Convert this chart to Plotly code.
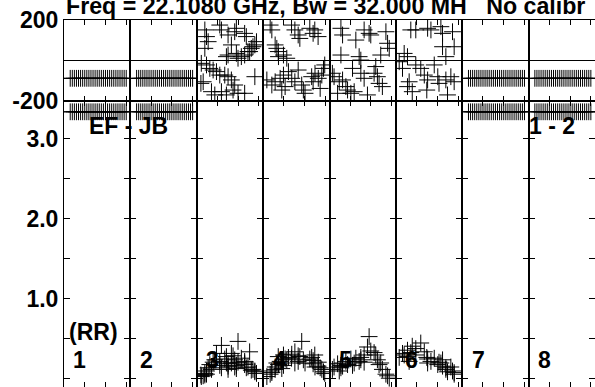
import plotly.graph_objects as go
from plotly.subplots import make_subplots

# --- text -------------------------------------------------------------
title_text = "Freq = 22.1080 GHz, Bw = 32.000 MH   No calibr"
baseline_label = "EF - JB"
source_label = "1 - 2"
stokes_label = "(RR)"
if_labels = ["1", "2", "3", "4", "5", "6", "7", "8"]

# --- flagged IFs (1, 2, 7, 8): every channel sits at the same spot ------
flag_channels = [3, 4, 5, 6, 7, 8, 9, 10, 11, 12, 13, 14, 15, 16, 17, 18,
                 19, 20, 21, 22, 23, 24, 25, 26, 27, 28, 29, 30]
flag_phase = -88.0
flag_amp = 3.34

# --- IF 3 ---------------------------------------------------------------
p3_chan = [3.9, 4.7, 5.5, 3.9, 11.1, 11.9, 15.1, 16.7, 18.3, 19.1, 23.1, 23.9,
           25.5, 27.1, 28.0, 28.8, 26.3, 24.7, 23.1, 21.5, 19.9, 19.1, 14.3, 15.1,
           2.2, 4.7, 6.3, 7.9, 9.5, 11.1, 13.5, 15.1, 16.7, 18.3, 17.5, 11.9,
           8.7, 7.1, 3.1, 2.0, 28.0, 23.1, 14.3, 19.9]
p3_phase = [151, 118, 93, 60, 175, 151, 126, 77, 142, 159, 134, 118,
            44, 68, 77, 93, 60, 44, 27, 19, 11, 35, 19, 27,
            -14, -22, -39, -47, -55, -72, -72, -80, -96, -121, -146, -154,
            -170, -154, -105, -113, -80, -162, -170, -162]
p3_amp = [0.07, 0.1, 0.14, 0.05, 0.22, 0.42, 0.19, 0.32, 0.24, 0.17, 0.2, 0.14,
          0.34, 0.12, 0.09, 0.07, 0.11, 0.15, 0.22, 0.26, 0.47, 0.13, 0.28, 0.16,
          0.03, 0.06, 0.18, 0.21, 0.32, 0.17, 0.25, 0.12, 0.2, 0.15, 0.29, 0.14,
          0.24, 0.12, 0.04, 0.05, 0.1, 0.18, 0.2, 0.21]

# --- IF 4 ---------------------------------------------------------------
p4_chan = [3.4, 4.2, 5.8, 6.6, 7.3, 9.8, 11.4, 13.7, 15.3, 16.9, 17.7, 22.5,
           24.1, 24.9, 26.5, 29.7, 7.4, 1.8, 4.2, 5.8, 8.2, 9.8, 12.2, 13.8,
           15.3, 16.9, 18.6, 19.4, 20.2, 23.4, 25.0, 26.6, 28.3, 29.1, 27.5, 24.1,
           10.6, 9.0]
p4_phase = [175, 151, 77, 60, 44, 27, 11, 175, 151, 126, 109, 159,
            134, 151, 118, -22, 19, -96, -121, -105, -88, -72, -55, -88,
            -105, -47, -121, -146, -162, -80, -63, -88, -72, -39, -138, -105,
            -129, -146]
p4_amp = [0.06, 0.08, 0.15, 0.2, 0.28, 0.3, 0.24, 0.26, 0.34, 0.22, 0.28, 0.25,
          0.19, 0.3, 0.16, 0.07, 0.18, 0.03, 0.1, 0.12, 0.22, 0.17, 0.27, 0.31,
          0.2, 0.29, 0.47, 0.24, 0.2, 0.27, 0.15, 0.21, 0.12, 0.09, 0.14, 0.23,
          0.25, 0.13]

# --- IF 5 ---------------------------------------------------------------
p5_chan = [5.5, 6.3, 5.5, 12.7, 14.3, 15.1, 16.7, 19.1, 19.9, 27.2, 28.0, 28.8,
           24.7, 1.4, 2.2, 4.7, 7.9, 8.7, 10.3, 11.9, 18.3, 11.1, 15.1, 16.7,
           22.3, 23.1, 23.9, 25.5, 6.3, 3.9, 21.5]
p5_phase = [159, 126, 27, 101, 19, 2, 151, 134, 126, 142, 85, 60,
            27, -63, -80, -105, -129, -146, -162, -154, -170, -39, -63, -88,
            -30, -80, -113, -129, -96, -162, -63]
p5_amp = [0.17, 0.2, 0.14, 0.26, 0.22, 0.24, 0.3, 0.53, 0.35, 0.06, 0.04, 0.01,
          0.2, 0.12, 0.15, 0.1, 0.22, 0.18, 0.25, 0.2, 0.4, 0.17, 0.27, 0.21,
          0.3, 0.24, 0.18, 0.12, 0.16, 0.19, 0.33]

# --- IF 6 ---------------------------------------------------------------
p6_chan = [7.2, 9.6, 15.3, 16.9, 21.7, 22.5, 27.3, 28.1, 22.5, 24.1, 4.0, 5.6,
           1.6, 3.2, 6.4, 5.6, 9.6, 12.0, 13.7, 15.3, 18.5, 20.2, 24.1, 26.5,
           28.1, 24.9, 7.9, 14.9, 20.8]
p6_phase = [151, 151, 159, 151, 167, 134, 142, 68, 68, 19, 35, 19,
            -6, -39, -105, -129, -22, -39, -72, -96, -22, -80, -96, -80,
            -105, -170, -154, -146, -113]
p6_amp = [0.33, 0.38, 0.25, 0.22, 0.2, 0.16, 0.1, 0.08, 0.24, 0.14, 0.3, 0.36,
          0.27, 0.32, 0.22, 0.28, 0.3, 0.45, 0.34, 0.2, 0.26, 0.18, 0.12, 0.15,
          0.06, 0.09, 0.41, 0.27, 0.21]

if_data = {3: (p3_chan, p3_phase, p3_amp),
           4: (p4_chan, p4_phase, p4_amp),
           5: (p5_chan, p5_phase, p5_amp),
           6: (p6_chan, p6_phase, p6_amp)}

FONT = "Liberation Sans"
cross = dict(symbol="cross-thin", size=12, line=dict(color="black", width=1))

fig = make_subplots(rows=2, cols=8, row_heights=[0.2207, 0.7793],
                    horizontal_spacing=0, vertical_spacing=0)

for col in range(1, 9):
    if col in if_data:
        chan, phase, amp = if_data[col]
    else:
        chan = flag_channels
        phase = [flag_phase] * len(flag_channels)
        amp = [flag_amp] * len(flag_channels)
    fig.add_trace(go.Scatter(x=chan, y=phase, mode="markers", marker=cross,
                             showlegend=False), row=1, col=col)
    fig.add_trace(go.Scatter(x=chan, y=amp, mode="markers", marker=cross,
                             showlegend=False), row=2, col=col)

tickfont = dict(family=FONT, size=23, color="black", weight="bold")

# channel axes
fig.update_xaxes(range=[0, 32], tickvals=[10, 20, 30], ticks="inside", ticklen=5,
                 tickcolor="black", showticklabels=False, showline=True,
                 linecolor="black", linewidth=1, mirror="ticks", showgrid=False,
                 zeroline=False, automargin=False)

# phase axes
fig.update_yaxes(range=[-200, 200], tickvals=[-200, 200], ticktext=["-200", "200"],
                 ticks="", showticklabels=False,
                 showline=True, linecolor="black", linewidth=1, mirror=True,
                 showgrid=False, zeroline=True, zerolinecolor="black", zerolinewidth=1,
                 automargin=False, row=1)
fig.update_yaxes(showticklabels=True, tickfont=tickfont, row=1, col=1)

# amplitude axes
fig.update_yaxes(range=[-0.1, 3.475], tickvals=[0, 0.5, 1, 1.5, 2, 2.5, 3],
                 ticktext=["0.0", "", "1.0", "", "2.0", "", "3.0"],
                 ticks="inside", ticklen=6, tickcolor="black", showticklabels=False,
                 showline=True, linecolor="black", linewidth=1, mirror="ticks",
                 showgrid=False, zeroline=False, automargin=False, row=2)
fig.update_yaxes(showticklabels=True, tickfont=tickfont, row=2, col=1)

labfont = dict(family=FONT, size=23, color="black", weight="bold")

fig.add_annotation(text=title_text, xref="paper", yref="paper", x=0, y=1,
                   xanchor="left", yanchor="bottom", yshift=-1, showarrow=False,
                   font=dict(family=FONT, size=23.2, color="black", weight="bold"))
fig.add_annotation(text=baseline_label, xref="x9 domain", yref="y9", x=0.346, y=3.16,
                   xanchor="left", yanchor="middle", showarrow=False, font=labfont)
fig.add_annotation(text=source_label, xref="x15 domain", yref="y15", x=0.973, y=3.16,
                   xanchor="left", yanchor="middle", showarrow=False, font=labfont)
fig.add_annotation(text=stokes_label, xref="x9 domain", yref="y9", x=0.045, y=0.59,
                   xanchor="left", yanchor="middle", showarrow=False, font=labfont)
for i, lab in enumerate(if_labels):
    ax = 9 + i
    fig.add_annotation(text=lab, xref=f"x{ax} domain", yref=f"y{ax}", x=0.24, y=0.24,
                       xanchor="center", yanchor="middle", showarrow=False, font=labfont)

fig.update_layout(width=595, height=387, margin=dict(l=64, r=0, t=20, b=0),
                  plot_bgcolor="white", paper_bgcolor="white")

# drop the page's default body margin so the figure sits at the window corner
fig.write_html("out.html", config={"displayModeBar": False},
               post_script="document.body.style.margin = '0';")
